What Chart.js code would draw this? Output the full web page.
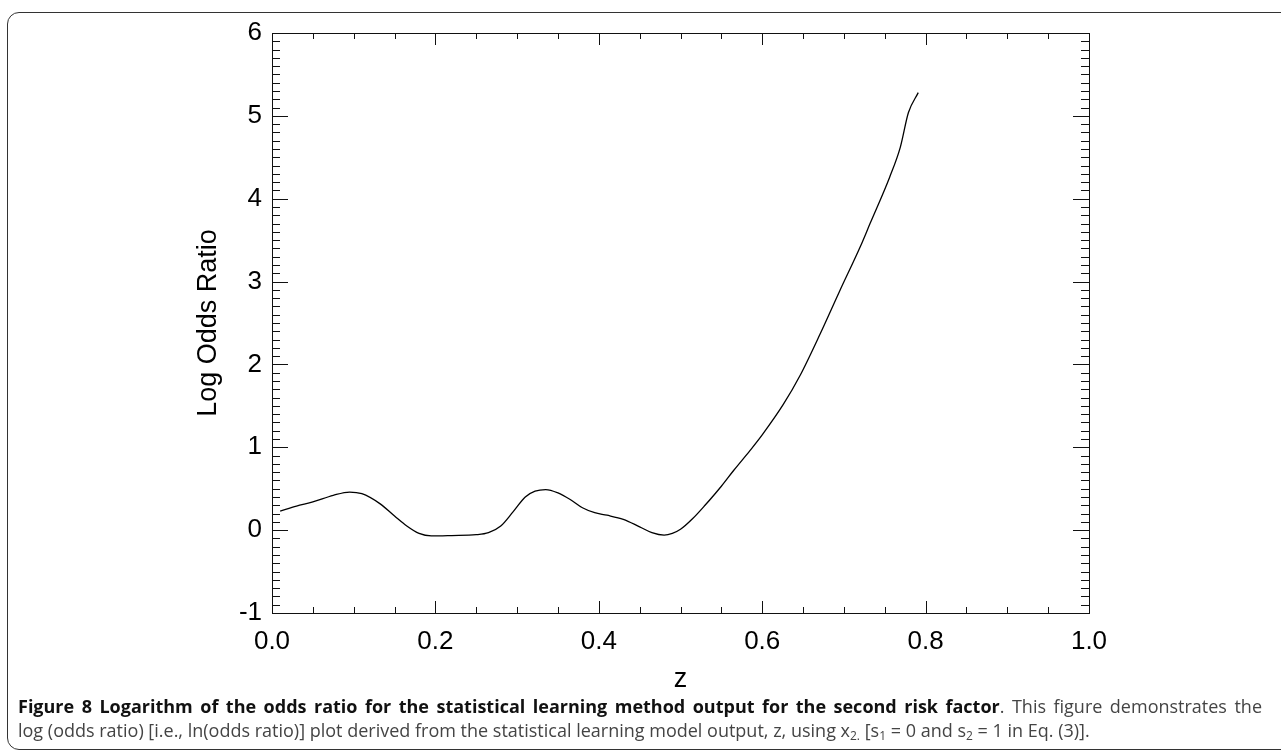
<!doctype html>
<html lang="en">
<head>
<meta charset="utf-8">
<title>Figure 8 Log odds ratio</title>
<script src="https://cdn.jsdelivr.net/npm/chart.js"></script>
<style>
  body { margin: 0; width: 1281px; height: 751px; overflow: hidden; background: #fff; position: relative; }
  .frame { position: absolute; left: 7px; top: 12px; width: 1320px; height: 736px; border: 1.5px solid #333; border-radius: 12px; }
  #chart { position: absolute; left: 0; top: 0; }
  .caption { position: absolute; left: 18px; top: 694px; width: 1244px; font-family: "Open Sans", sans-serif; font-size: 18px; line-height: 24px; color: #444; }
  .caption div { white-space: nowrap; }
  .caption .l1 { text-align: justify; text-align-last: justify; }
  .caption b { color: #111; }
  .caption sub { font-size: 12px; vertical-align: -3px; line-height: 0; }
</style>
</head>
<body>
<div class="frame"></div>
<canvas id="chart" width="1281" height="700"></canvas>
<div class="caption">
  <div class="l1"><b>Figure 8 Logarithm of the odds ratio for the statistical learning method output for the second risk factor</b>. This figure demonstrates the</div>
  <div>log (odds ratio) [i.e., ln(odds ratio)] plot derived from the statistical learning model output, z, using x<sub>2.</sub> [s<sub>1</sub> = 0 and s<sub>2</sub> = 1 in Eq. (3)].</div>
</div>
<script>
  // values
  const zValues = [0.01, 0.03, 0.05, 0.075, 0.095, 0.11, 0.132, 0.15, 0.165, 0.18, 0.195, 0.22, 0.25, 0.265, 0.28, 0.295, 0.31, 0.322, 0.335, 0.35, 0.365, 0.38, 0.395, 0.41, 0.43, 0.45, 0.465, 0.48, 0.49, 0.5, 0.515, 0.53, 0.55, 0.565, 0.585, 0.6, 0.626, 0.646, 0.671, 0.695, 0.72, 0.732, 0.756, 0.769, 0.779, 0.791]
  const logOdds = [0.23, 0.29, 0.34, 0.42, 0.46, 0.44, 0.32, 0.17, 0.05, -0.04, -0.07, -0.065, -0.055, -0.03, 0.05, 0.22, 0.40, 0.47, 0.49, 0.45, 0.37, 0.27, 0.21, 0.18, 0.13, 0.04, -0.03, -0.06, -0.04, 0.01, 0.14, 0.30, 0.53, 0.72, 0.96, 1.15, 1.52, 1.86, 2.37, 2.89, 3.42, 3.70, 4.26, 4.62, 5.04, 5.28]
  const zTicks = [0, 0.2, 0.4, 0.6, 0.8, 1.0]
  const yTicks = [-1, 0, 1, 2, 3, 4, 5, 6]

  const tickFont = { family: 'Liberation Sans', size: 26 }
  const titleFont = { family: 'Liberation Sans', size: 27 }

  // IDL-style box with inward major/minor ticks on all four sides
  const frameTicks = {
    id: 'frameTicks',
    afterDraw(chart) {
      const { ctx, chartArea: a, scales: { x, y } } = chart
      ctx.save()
      ctx.strokeStyle = '#111'
      ctx.lineWidth = 1
      ctx.strokeRect(a.left + 0.5, a.top + 0.5, a.right - a.left, a.bottom - a.top)
      ctx.beginPath()
      for (let i = 0; i <= 20; i++) {
        const px = Math.round(x.getPixelForValue(i * 0.05)) + 0.5
        const len = i % 4 == 0 ? 12 : 6
        ctx.moveTo(px, a.bottom); ctx.lineTo(px, a.bottom - len)
        ctx.moveTo(px, a.top); ctx.lineTo(px, a.top + len)
      }
      for (let i = 0; i <= 70; i++) {
        const py = Math.round(y.getPixelForValue(-1 + i / 10)) + 0.5
        const len = i % 10 == 0 ? 16 : 8
        ctx.moveTo(a.left, py); ctx.lineTo(a.left + len, py)
        ctx.moveTo(a.right, py); ctx.lineTo(a.right - len, py)
      }
      ctx.stroke()
      ctx.restore()
    },
  }

  new Chart(document.getElementById('chart'), {
    type: 'line',
    data: {
      datasets: [{
        data: zValues.map((z, i) => ({ x: z, y: logOdds[i] })),
        borderColor: '#000',
        borderWidth: 1.3,
        pointRadius: 0,
        cubicInterpolationMode: 'monotone',
        fill: false,
      }],
    },
    options: {
      responsive: false,
      animation: false,
      layout: { padding: { left: 182, top: 33, right: 192, bottom: 0 } },
      plugins: { legend: { display: false }, tooltip: { enabled: false } },
      scales: {
        x: {
          type: 'linear',
          min: 0,
          max: 1,
          grid: { display: false, drawTicks: false },
          border: { display: false },
          afterBuildTicks: (s) => { s.ticks = zTicks.map((v) => ({ value: v })) },
          afterFit: (s) => { s.height = 87 },
          ticks: {
            color: '#000',
            font: tickFont,
            padding: 13,
            maxRotation: 0,
            autoSkip: false,
            callback: (v) => v.toFixed(1),
          },
          title: { display: true, text: 'z', color: '#000', font: titleFont, padding: 4 },
        },
        y: {
          min: -1,
          max: 6,
          grid: { display: false, drawTicks: false },
          border: { display: false },
          afterBuildTicks: (s) => { s.ticks = yTicks.map((v) => ({ value: v })) },
          afterFit: (s) => { s.width = 90 },
          ticks: { color: '#000', font: tickFont, padding: 10, autoSkip: false },
          title: { display: true, text: 'Log Odds Ratio', color: '#000', font: titleFont, padding: 10 },
        },
      },
    },
    plugins: [frameTicks],
  })
</script>
</body>
</html>
